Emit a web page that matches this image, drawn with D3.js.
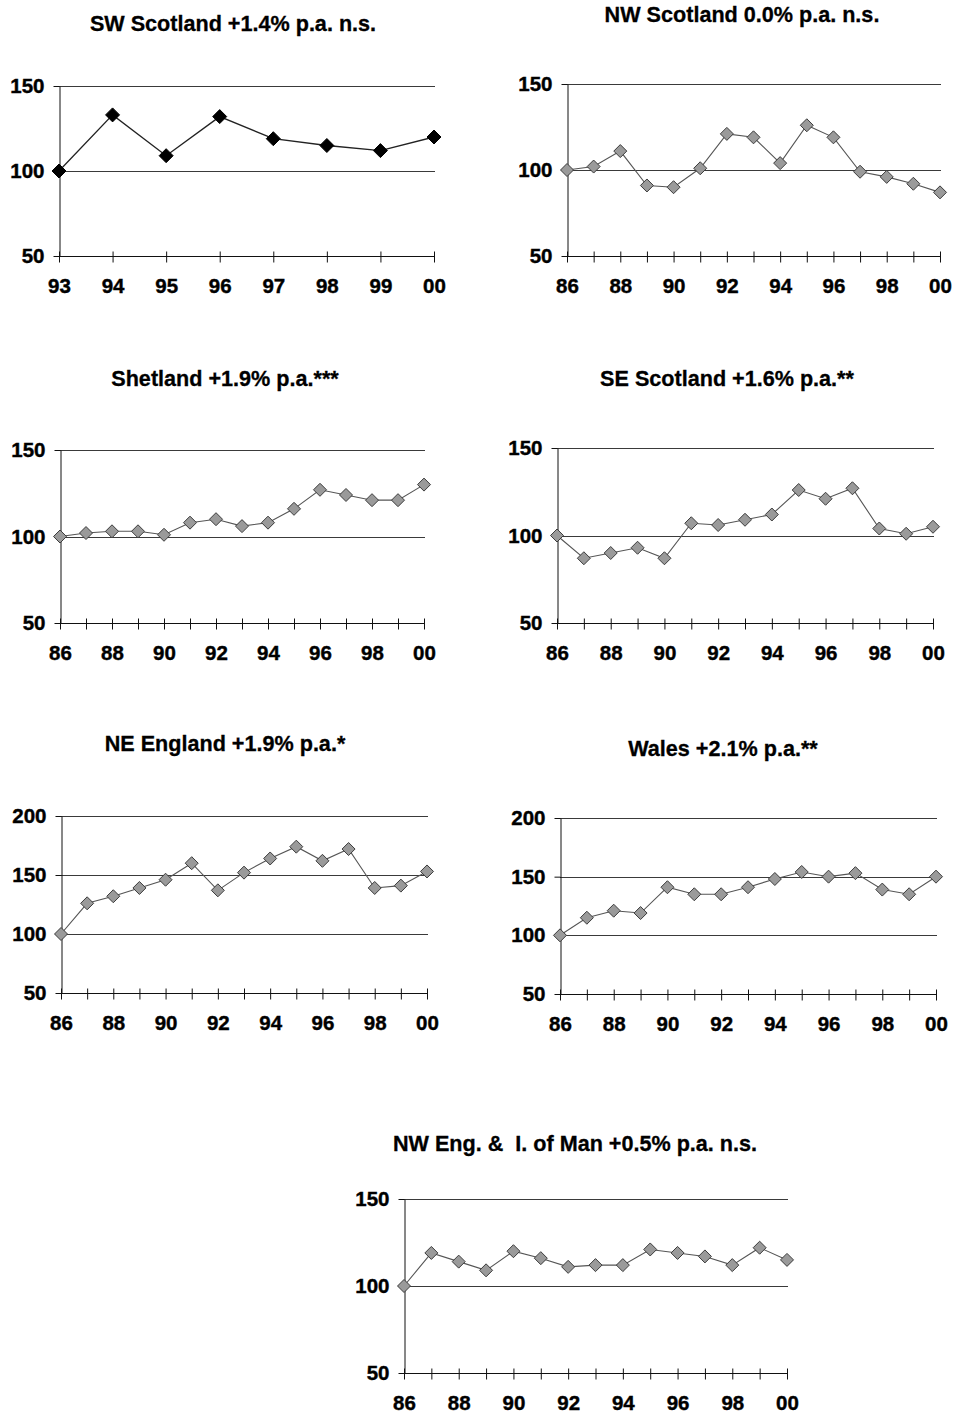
<!DOCTYPE html>
<html>
<head>
<meta charset="utf-8">
<script src="https://cdn.jsdelivr.net/npm/d3@7"></script>
<style>
  body { margin: 0; background: #fff; }
  svg { display: block; font-family: Arial, "Liberation Sans", sans-serif; }
</style>
</head>
<body>
<svg id="chart" width="953" height="1413"></svg>
<script>
// years
const yearsShort = [1993, 1994, 1995, 1996, 1997, 1998, 1999, 2000];
const yearsLong = [1986, 1987, 1988, 1989, 1990, 1991, 1992, 1993, 1994, 1995, 1996, 1997, 1998, 1999, 2000];

// index values (first year = 100)
const swScotland = [100, 133, 109, 132, 119, 115, 112, 120];
const nwScotland = [100, 102, 111, 91, 90, 101, 121, 119, 104, 126, 119, 99, 96, 92, 87];
const shetland   = [100, 102, 103, 103, 101, 108, 110, 106, 108, 116, 127, 124, 121, 121, 130];
const seScotland = [100, 87, 90, 93, 87, 107, 106, 109, 112, 126, 121, 127, 104, 101, 105];
const neEngland  = [100, 126, 132, 139, 146, 160, 137, 152, 164, 174, 162, 172, 139, 141, 153];
const wales      = [100, 115, 121, 119, 141, 135, 135, 141, 148, 154, 150, 153, 139, 135, 150];
const nwEngMan   = [100, 119, 114, 109, 120, 116, 111, 112, 112, 121, 119, 117, 112, 122, 115];

const titles = [
  "SW Scotland +1.4% p.a. n.s.",
  "NW Scotland 0.0% p.a. n.s.",
  "Shetland +1.9% p.a.***",
  "SE Scotland +1.6% p.a.**",
  "NE England +1.9% p.a.*",
  "Wales +2.1% p.a.**",
  "NW Eng. &  I. of Man +0.5% p.a. n.s."
];
const yTicksLow = [50, 100, 150];
const yTicksHigh = [50, 100, 150, 200];

// layout of each small chart (pixels)
const panels = [
  { years: yearsShort, values: swScotland, yTicks: yTicksLow, left: 59, right: 434, top: 86, bottom: 256, tx: 233, ty: 23, every: 1, filled: true },
  { years: yearsLong, values: nwScotland, yTicks: yTicksLow, left: 567, right: 940, top: 84, bottom: 256, tx: 742, ty: 14, every: 2 },
  { years: yearsLong, values: shetland, yTicks: yTicksLow, left: 60, right: 424, top: 450, bottom: 623, tx: 225, ty: 378, every: 2 },
  { years: yearsLong, values: seScotland, yTicks: yTicksLow, left: 557, right: 933, top: 448, bottom: 623, tx: 727, ty: 378, every: 2 },
  { years: yearsLong, values: neEngland, yTicks: yTicksHigh, left: 61, right: 427, top: 816, bottom: 993, tx: 225, ty: 743, every: 2 },
  { years: yearsLong, values: wales, yTicks: yTicksHigh, left: 560, right: 936, top: 818, bottom: 994, tx: 723, ty: 748, every: 2 },
  { years: yearsLong, values: nwEngMan, yTicks: yTicksLow, left: 404, right: 787, top: 1199, bottom: 1373, tx: 575, ty: 1143, every: 2 }
];

const svg = d3.select("#chart");

panels.forEach((p, i) => {
  const g = svg.append("g");
  const first = p.years[0], last = p.years[p.years.length - 1];
  const x = d3.scaleLinear().domain([first, last]).range([p.left, p.right]);
  const y = d3.scaleLinear().domain([p.yTicks[0], p.yTicks[p.yTicks.length - 1]]).range([p.bottom, p.top]);

  // title
  g.append("text").attr("x", p.tx).attr("y", p.ty).attr("dy", "0.35em")
    .attr("text-anchor", "middle").attr("font-size", 21.6).attr("font-weight", "bold")
    .attr("stroke", "#000").attr("stroke-width", 0.3)
    .style("white-space", "pre")
    .text(titles[i]);

  // gridlines (skip bottom, that one is the axis)
  g.selectAll(".grid").data(p.yTicks.slice(1)).join("line")
    .attr("x1", p.left).attr("x2", p.right + 1)
    .attr("y1", d => Math.round(y(d)) + 0.5).attr("y2", d => Math.round(y(d)) + 0.5)
    .attr("stroke", "#3a3a3a").attr("stroke-width", 1);

  // y axis
  const yAxis = g.append("g").attr("transform", `translate(${p.left + 0.5},0)`)
    .call(d3.axisLeft(y).tickValues(p.yTicks).tickSize(6).tickPadding(9).tickSizeOuter(0));
  // x axis
  const xAxis = g.append("g").attr("transform", `translate(0,${Math.round(p.bottom) + 0.5})`)
    .call(d3.axisBottom(x).tickValues(p.years).tickSize(6).tickPadding(16).tickSizeOuter(0)
      .tickFormat(d => (d - first) % p.every === 0 ? d3.format("02d")(d % 100) : ""));
  xAxis.selectAll(".tick line").attr("y1", -5);

  [yAxis, xAxis].forEach(a => {
    a.select(".domain").attr("stroke", "#111");
    a.selectAll(".tick line").attr("stroke", "#111");
    a.selectAll("text").attr("font-size", 20.5).attr("font-weight", "bold")
      .attr("fill", "#000").attr("stroke", "#000").attr("stroke-width", 0.4)
      .attr("font-family", "Arial, 'Liberation Sans', sans-serif");
  });
  xAxis.select(".domain").attr("d", `M${p.left},0H${p.right + 1}`);

  const pts = p.years.map((yr, k) => [yr, p.values[k]]);

  g.append("path").datum(pts)
    .attr("fill", "none")
    .attr("stroke", p.filled ? "#222" : "#555")
    .attr("stroke-width", p.filled ? 1.3 : 1.1)
    .attr("d", d3.line().x(d => x(d[0])).y(d => y(d[1])));

  const r = p.filled ? 7 : 6.5;
  g.selectAll(".mark").data(pts).join("path")
    .attr("transform", d => `translate(${x(d[0])},${y(d[1])})`)
    .attr("d", `M0,${-r}L${r},0L0,${r}L${-r},0Z`)
    .attr("fill", p.filled ? "#000" : "#9a9a9a")
    .attr("stroke", p.filled ? "#000" : "#3c3c3c")
    .attr("stroke-width", 1);
});
</script>
</body>
</html>
